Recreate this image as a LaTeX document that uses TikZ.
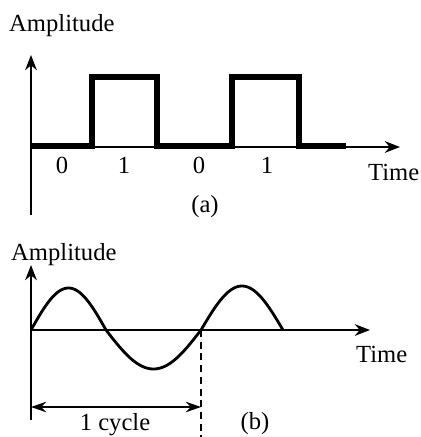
\documentclass[tikz,border=0pt]{standalone}
\usepackage{fontspec}
\setmainfont{Liberation Serif}
\usetikzlibrary{arrows.meta}
\tikzset{
  axis/.style={line width=1.6pt,-{Stealth[length=13pt,width=10pt]}},
  pulse/.style={line width=4.5pt,line join=miter},
  wave/.style={line width=2.4pt}
}
\begin{document}
\begin{tikzpicture}[x=0.03cm,y=-0.03cm,font=\fontsize{21}{25}\selectfont]
    \useasboundingbox (0,0) rectangle (421,437);
    % (a) digital signal
    \coordinate (oa) at (31,147);
    \coordinate (ya) at (31,55);
    \coordinate (xa) at (400,147);
    \draw [axis] (31,215) -- (ya);
    \draw [axis] (oa) -- (xa);
    \draw [pulse] (31,146) -- (92,146) -- (92,77) -- (157,77) -- (157,146) -- (232,146) -- (232,77) -- (299,77) -- (299,146) -- (346,146);
    \node (ampa) [anchor=base west,inner sep=0pt] at (9,31) {Amplitude};
    \node (timea) [anchor=base west,inner sep=0pt] at (368,180) {Time};
    \node (bit1) [anchor=base,inner sep=0pt] at (62,173) {0};
    \node (bit2) [anchor=base,inner sep=0pt] at (124,173) {1};
    \node (bit3) [anchor=base,inner sep=0pt] at (199,173) {0};
    \node (bit4) [anchor=base,inner sep=0pt] at (267,173) {1};
    \node (capa) [anchor=base,inner sep=0pt] at (205,212) {(a)};
    % (b) analog signal
    \coordinate (ob) at (31,330);
    \coordinate (yb) at (31,265);
    \coordinate (xb) at (370,330);
    \coordinate (endc) at (201,407);
    \draw [axis] (31,420) -- (yb);
    \draw [axis] (ob) -- (xb);
    \draw [wave,samples=60,domain=31:106] plot (\x,{330-42*sin((\x-31)/75*180)});
    \draw [wave,samples=60,domain=106:201] plot (\x,{330+39*sin((\x-106)/95*180)});
    \draw [wave,samples=60,domain=201:283] plot (\x,{330-44*sin((\x-201)/82*180)});
    \draw [line width=1.4pt,dash pattern=on 6pt off 4pt] (201,330) -- (201,437);
    \draw [line width=1.4pt,{Stealth[length=13pt,width=9pt]}-{Stealth[length=13pt,width=9pt]}] (31,407) -- (endc);
    \node (ampb) [anchor=base west,inner sep=0pt] at (11,260) {Amplitude};
    \node (timeb) [anchor=base west,inner sep=0pt] at (356,362) {Time};
    \node (cycle) [anchor=base,inner sep=0pt] at (115,430) {1 cycle};
    \node (capb) [anchor=base,inner sep=0pt] at (255,429) {(b)};
\end{tikzpicture}
\end{document}
